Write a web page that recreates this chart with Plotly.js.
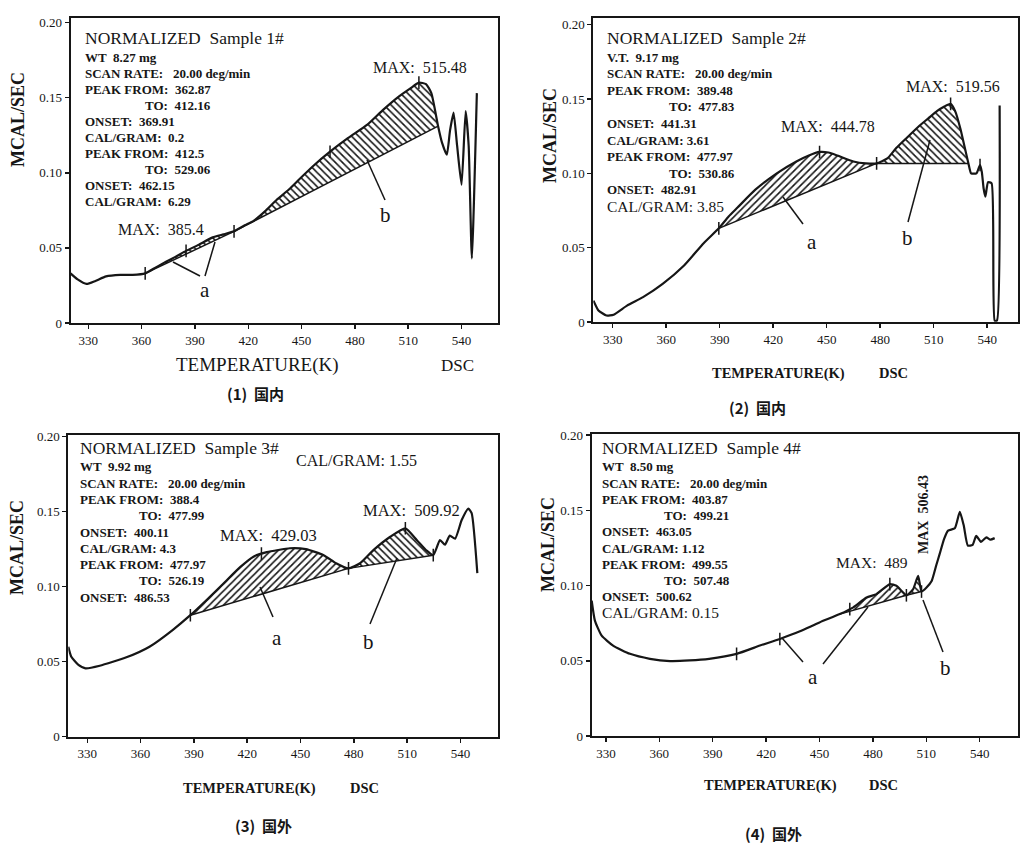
<!DOCTYPE html>
<html><head><meta charset="utf-8">
<script src="https://cdn.plot.ly/plotly-3.0.1.min.js"></script>
<style>html,body{margin:0;padding:0;background:#fff}#chart{width:1020px;height:846px}</style>
</head><body><div id="chart"></div>
<script>
// ---------- data ----------
const xTicks = [330, 360, 390, 420, 450, 480, 510, 540];
const yTicks = [0, 0.05, 0.10, 0.15, 0.20];
const yTickText = ['0', '0.05', '0.10', '0.15', '0.20'];

// Sample 1
const T1 = [320,324,329,334,340,348,355,362,368,374,379,385,392,400,406,412,418,423,430,436,443,449,457,466,476,487,496,505,511,516,520,523,526.8,529,531.7,533.5,535.5,537.5,540,542.3,544,545.8,548.6];
const V1 = [0.033,0.029,0.026,0.028,0.031,0.032,0.032,0.033,0.037,0.041,0.044,0.048,0.052,0.057,0.059,0.061,0.065,0.068,0.075,0.082,0.089,0.096,0.105,0.114,0.123,0.132,0.142,0.151,0.156,0.160,0.159,0.153,0.131,0.120,0.112,0.128,0.140,0.118,0.092,0.141,0.118,0.043,0.153];
const baseA1T = [362, 412], baseA1V = [0.033, 0.061];
const baseB1T = [412, 526.8], baseB1V = [0.061, 0.131];
const mark1T = [362, 385, 412, 466, 516], mark1V = [0.033, 0.048, 0.061, 0.114, 0.160];

// Sample 2
const T2 = [319.2,322,326.5,330.5,338,347,358,370,381,389.5,395,400,410,422,433,440,446,451,456,465,472,478,484,489,495,502,507,512,516,519.5,522,525,527.5,529.5,531,534,536,537,538,539,540.5,542.5,544.2,545.5,547];
const V2 = [0.0144,0.0078,0.0044,0.0049,0.011,0.0167,0.0256,0.038,0.053,0.063,0.071,0.077,0.089,0.100,0.108,0.112,0.1144,0.114,0.112,0.108,0.1067,0.1067,0.110,0.117,0.124,0.132,0.137,0.142,0.145,0.1467,0.142,0.130,0.117,0.1067,0.100,0.100,0.1056,0.101,0.090,0.0844,0.094,0.0933,0.001,0.001,0.1456];
const baseA2T = [389.5, 478], baseA2V = [0.063, 0.1067];
const baseB2T = [478, 529.5], baseB2V = [0.1067, 0.1067];
const mark2T = [389.5, 446, 478, 519.5, 536], mark2V = [0.063, 0.1144, 0.1067, 0.1467, 0.1056];

// Sample 3
const T3 = [319.3,321,325,329,337,352,365,378,388,397,406.5,416,423.5,431,444,453,463,470,477,483.5,491,500.5,509,515.5,521,524.7,528.5,531.3,534,537,540.7,544.4,546.3,549.5];
const V3 = [0.060,0.0533,0.0478,0.0456,0.0473,0.0529,0.060,0.0711,0.081,0.091,0.102,0.113,0.120,0.123,0.1256,0.125,0.121,0.1156,0.1122,0.1156,0.1244,0.1333,0.1389,0.131,0.124,0.121,0.131,0.128,0.134,0.132,0.1444,0.152,0.149,0.109];
const baseA3T = [388, 477], baseA3V = [0.081, 0.1122];
const baseB3T = [477, 524.7], baseB3V = [0.1122, 0.121];
const mark3T = [388, 428, 477, 509, 524.7], mark3V = [0.081, 0.122, 0.1122, 0.1389, 0.121];

// Sample 4
const T4 = [322,323.8,327.6,334,343.5,354.7,366,377,388,403.4,416.5,427.7,439,450,461.4,469,476.4,482,489.5,493.2,498.8,502.6,505.4,507.3,510.1,513,515.7,517.5,520,522.2,526,528.8,531,533.3,536,538,540.7,543.7,546,548.4];
const V4 = [0.0899,0.0767,0.0667,0.0601,0.0546,0.0513,0.0498,0.0502,0.0513,0.0546,0.0601,0.0645,0.0696,0.0755,0.081,0.0855,0.092,0.0943,0.1009,0.0998,0.0935,0.0976,0.1064,0.096,0.0987,0.103,0.114,0.121,0.131,0.1365,0.138,0.1489,0.140,0.1266,0.127,0.133,0.129,0.132,0.1305,0.1315];
const baseA4T = [461.4, 498.8], baseA4V = [0.081, 0.0935];
const baseB4T = [498.8, 507.3], baseB4V = [0.0935, 0.096];
const mark4T = [403.4, 427.7, 467, 489.5, 498.8, 507.3], mark4V = [0.0546, 0.0645, 0.0843, 0.1009, 0.0935, 0.096];

// texts
const head = ['NORMALIZED  Sample 1#', 'NORMALIZED  Sample 2#', 'NORMALIZED  Sample 3#', 'NORMALIZED  Sample 4#'];
const info1 = ['WT  8.27 mg','SCAN RATE:   20.00 deg/min','PEAK FROM:  362.87','TO:  412.16','ONSET:  369.91','CAL/GRAM:  0.2','PEAK FROM:  412.5','TO:  529.06','ONSET:  462.15','CAL/GRAM:  6.29'];
const info2 = ['V.T.  9.17 mg','SCAN RATE:   20.00 deg/min','PEAK FROM:  389.48','TO:  477.83','ONSET:  441.31','CAL/GRAM: 3.61','PEAK FROM:  477.97','TO:  530.86','ONSET:  482.91','CAL/GRAM: 3.85'];
const info3 = ['WT  9.92 mg','SCAN RATE:   20.00 deg/min','PEAK FROM:  388.4','TO:  477.99','ONSET:  400.11','CAL/GRAM: 4.3','PEAK FROM:  477.97','TO:  526.19','ONSET:  486.53'];
const info4 = ['WT  8.50 mg','SCAN RATE:   20.00 deg/min','PEAK FROM:  403.87','TO:  499.21','ONSET:  463.05','CAL/GRAM: 1.12','PEAK FROM:  499.55','TO:  507.48','ONSET:  500.62','CAL/GRAM: 0.15'];
const captions = ['(1)  国内', '(2)  国内', '(3)  国外', '(4)  国外'];

// ---------- layout helpers ----------
const W = 1020, H = 846;
const px = x => x / W, py = y => 1 - y / H;
const SERIF = 'Liberation Serif, Times New Roman, serif';
const INK = '#161616';

const panels = [
  {T:T1,V:V1,aT:baseA1T,aV:baseA1V,bT:baseB1T,bV:baseB1V,mT:mark1T,mV:mark1V,pa:'\\',pb:'\\',
   box:[70.7,18,498,323], xr:[320.1,560.5], yr:[0,0.203]},
  {T:T2,V:V2,aT:baseA2T,aV:baseA2V,bT:baseB2T,bV:baseB2V,mT:mark2T,mV:mark2V,pa:'/',pb:'\\',
   box:[593.3,18,1018,322], xr:[319.1,557.3], yr:[0,0.2045]},
  {T:T3,V:V3,aT:baseA3T,aV:baseA3V,bT:baseB3T,bV:baseB3V,mT:mark3T,mV:mark3V,pa:'/',pb:'\\',
   box:[68.3,435,498.3,736.7], xr:[319.3,561.3], yr:[0,0.2011]},
  {T:T4,V:V4,aT:baseA4T,aV:baseA4V,bT:baseB4T,bV:baseB4V,mT:mark4T,mV:mark4V,pa:'/',pb:'\\',
   box:[591.7,434,1018,736], xr:[322,561.5], yr:[0,0.2007]}
];

function seg(T, V, t0, t1) {
  const x = [], y = [];
  for (let i = 0; i < T.length; i++) if (T[i] >= t0 - 1e-9 && T[i] <= t1 + 1e-9) { x.push(T[i]); y.push(V[i]); }
  return {x, y};
}

const data = [];
const layout = {
  width: W, height: H, margin: {l:0, r:0, t:0, b:0},
  paper_bgcolor: '#fff', plot_bgcolor: '#fff', showlegend: false,
  annotations: [], shapes: []
};

panels.forEach((p, i) => {
  const n = i === 0 ? '' : String(i + 1);
  const xa = 'x' + n, ya = 'y' + n;
  const common = {xaxis: xa, yaxis: ya, hoverinfo: 'skip', showlegend: false};
  [[p.aT, p.aV, p.pa], [p.bT, p.bV, p.pb]].forEach(([bt, bv, pat]) => {
    data.push(Object.assign({type:'scatter', mode:'lines', x: bt, y: bv,
      line:{color: INK, width: 1.5}}, common));
    const s = seg(p.T, p.V, bt[0], bt[1]);
    data.push(Object.assign({type:'scatter', mode:'lines', x: s.x, y: s.y, fill:'tonexty',
      fillcolor:'rgba(255,255,255,0)',
      fillpattern:{shape: pat, size: 5, solidity: 0.32, fgcolor: INK, bgcolor:'rgba(255,255,255,0)'},
      line:{color: INK, width: 0}}, common));
  });
  data.push(Object.assign({type:'scatter', mode:'lines', x: p.T, y: p.V,
    line:{color: INK, width: 2.2, shape:'spline', smoothing: 0.5}}, common));
  data.push(Object.assign({type:'scatter', mode:'markers', x: p.mT, y: p.mV,
    marker:{symbol:'line-ns', size: 9, line:{color: INK, width: 1.5}}}, common));

  const [l, t, r, b] = p.box;
  const axBase = {showline:true, linecolor: INK, linewidth: 2, mirror: true, showgrid:false, zeroline:false,
    ticks:'outside', ticklen: 4, tickwidth: 1.5, tickcolor: INK, fixedrange: true,
    tickfont:{family: SERIF, size: 13, color: INK}};
  layout['xaxis' + n] = Object.assign({}, axBase, {domain:[px(l), px(r)], range: p.xr,
    anchor: ya, tickvals: xTicks, ticktext: xTicks.map(String)});
  layout['yaxis' + n] = Object.assign({}, axBase, {domain:[py(b), py(t)], range: p.yr,
    anchor: xa, tickvals: yTicks, ticktext: yTickText});
});

// annotations
function txt(text, x, y, size, opts) {
  layout.annotations.push(Object.assign({text, x: px(x), y: py(y), xref:'paper', yref:'paper',
    showarrow:false, xanchor:'left', yanchor:'middle',
    font:{family: SERIF, size, color: INK}}, opts || {}));
}
function line(x0, y0, x1, y1) {
  layout.shapes.push({type:'line', xref:'paper', yref:'paper', x0: px(x0), y0: py(y0), x1: px(x1), y1: py(y1),
    line:{color: INK, width: 1.5}});
}
const bold = {family: SERIF, color: INK, weight: 'bold'};

// info blocks
const blocks = [
  {info: info1, hx: 83, hy: 38, x: 83, toX: 143, y0: 57, dy: 16.1, big: false},
  {info: info2, hx: 605, hy: 38, x: 605, toX: 667, y0: 57, dy: 16.6, big: true},
  {info: info3, hx: 78, hy: 448, x: 78, toX: 137, y0: 467, dy: 16.25, big: false},
  {info: info4, hx: 600, hy: 448, x: 600, toX: 662, y0: 467, dy: 16.2, big: true}
];
blocks.forEach((bk, i) => {
  txt(head[i], bk.hx, bk.hy, 17.5);
  bk.info.forEach((s, j) => {
    const isTo = s.startsWith('TO:');
    const last = bk.big && j === bk.info.length - 1;
    const size = last ? 15.5 : 13;
    txt(s, isTo ? bk.toX : bk.x, bk.y0 + j * bk.dy, size,
      {font: Object.assign({}, bold, {size, weight: last ? 'normal' : 'bold'})});
  });
});

// MAX labels and other in-plot texts
const center = {xanchor:'center'};
txt('MAX:  385.4', 161, 229, 16, center);
txt('MAX:  515.48', 420, 67, 16, center);
txt('MAX:  444.78', 828, 127, 16, center);
txt('MAX:  519.56', 953, 86, 16, center);
txt('MAX:  429.03', 268, 535, 16.5, center);
txt('MAX:  509.92', 411, 510, 16.5, center);
txt('CAL/GRAM: 1.55', 356, 460, 16, center);
txt('MAX:  489', 872, 562, 15.5, center);
txt('MAX  506.43', 923, 515, 14, {xanchor:'center', textangle: -90, font: Object.assign({}, bold, {size: 14})});

// a / b labels
[['b',385,215],['a',205,290],['a',812,242],['b',907,238],['a',277,638],['b',368,642],['a',813,677],['b',945,668]]
  .forEach(([s,x,y]) => txt(s, x, y, 21, center));
// leader lines
line(385,200,367,160); line(200,276,173,262); line(205,276,215,242);
line(803,224,783,197); line(908,222,930,140);
line(273,617,260,587); line(370,624,397,558);
line(803,662,782,638); line(823,664,868,607); line(943,652,923,600);

// axis titles and captions
txt('TEMPERATURE(K)', 257, 365, 19, center);
txt('DSC', 457, 365, 17, center);
const tb = (s, x, y, size) => txt(s, x, y, size, {xanchor:'center', font: Object.assign({}, bold, {size})});
tb('TEMPERATURE(K)', 778, 373, 14.5); tb('DSC', 893, 373, 14.5);
tb('TEMPERATURE(K)', 249, 788, 14.5); tb('DSC', 364, 788, 14.5);
tb('TEMPERATURE(K)', 770, 785, 14.5); tb('DSC', 883, 785, 14.5);
[[18,120],[550,136],[17,548],[548,545]].forEach(([x,y]) =>
  txt('MCAL/SEC', x, y, 18, {xanchor:'center', textangle:-90, font: Object.assign({}, bold, {size: 18})}));
const CJK = {family:'Noto Sans CJK SC, ' + SERIF, size: 15, color: INK, weight: 'bold'};
[[255,393],[757,407],[263,825],[773,833]].forEach(([x,y], i) =>
  txt(captions[i], x, y, 15, {xanchor:'center', font: CJK}));

Plotly.newPlot('chart', data, layout, {displayModeBar:false, staticPlot:true});
</script>
</body></html>
